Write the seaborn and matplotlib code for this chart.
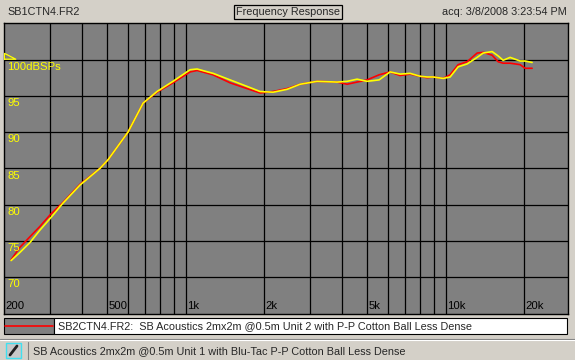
import numpy as np
import pandas as pd
import seaborn as sns
import matplotlib.pyplot as plt
from matplotlib.patches import Rectangle
from matplotlib.lines import Line2D

# frequency points (Hz)
freq = [213, 230, 252, 275, 301, 337, 392, 468, 503, 600, 686, 776, 894, 1040,
        1107, 1275, 1482, 1723, 1934, 2170, 2457, 2757, 3206, 3827, 4182, 4568,
        4992, 5552, 6120, 6686, 7306, 7984, 8496, 8960, 9792, 10416, 11184,
        12110, 13234, 13956, 15114, 15942, 16662, 17724, 19370, 20250, 21540]

# SB1CTN4.FR2 (yellow, main trace)
spl_sb1 = [72.3, 73.4, 74.8, 76.5, 78.1, 80.2, 82.7, 85.0, 86.2, 90.0, 94.0, 95.6,
           97.0, 98.6, 98.7, 98.1, 97.2, 96.3, 95.6, 95.5, 95.9, 96.6, 97.0, 96.9,
           97.0, 97.3, 97.0, 97.2, 98.3, 98.0, 98.1, 97.7, 97.6, 97.6, 97.4, 97.6,
           99.0, 99.4, 100.3, 100.9, 101.1, 100.5, 99.9, 100.3, 99.8, 99.8, 99.6]

# SB2CTN4.FR2 (red, overlay)
spl_sb2 = [72.4, 74.1, 75.6, 77.0, 78.6, 80.3, 82.8, 85.0, 86.2, 90.0, 94.0, 95.5,
           96.8, 98.3, 98.5, 97.9, 96.8, 96.0, 95.4, 95.6, 96.0, 96.6, 97.0, 96.9,
           96.6, 96.9, 97.2, 97.9, 98.3, 97.8, 98.0, 97.7, 97.5, 97.6, 97.4, 97.9,
           99.3, 99.7, 100.9, 101.0, 100.6, 99.7, 99.5, 99.5, 99.3, 98.8, 98.8]

x_grid = [300, 400, 500, 600, 700, 800, 900, 1000, 2000, 3000, 4000, 5000,
          6000, 7000, 8000, 9000, 10000, 20000]
x_labels = {200: "200", 500: "500", 1000: "1k", 2000: "2k", 5000: "5k",
            10000: "10k", 20000: "20k"}
y_ticks = [70, 75, 80, 85, 90, 95, 100]
y_labels = ["70", "75", "80", "85", "90", "95", "100dBSPs"]
ref_level = 100

title_left = "SB1CTN4.FR2"
title_mid = "Frequency Response"
title_right = "acq: 3/8/2008 3:23:54 PM"
legend_text = "SB2CTN4.FR2:  SB Acoustics 2mx2m @0.5m Unit 2 with P-P Cotton Ball Less Dense"
status_text = "SB Acoustics 2mx2m @0.5m Unit 1 with Blu-Tac P-P Cotton Ball Less Dense"

df = pd.DataFrame({"freq": freq, "sb1": spl_sb1, "sb2": spl_sb2})

sns.set_style("white")
plt.rcParams["font.family"] = ["Liberation Sans", "DejaVu Sans"]

W, H = 575, 360
fig = plt.figure(figsize=(W / 100, H / 100), dpi=100)
fig.patch.set_facecolor("#d4d0c8")


def fx(x):
    return x / W


def fy(y):
    return 1 - y / H


ax = fig.add_axes([fx(4), fy(313.5), fx(568) - fx(4), fy(23.3) - fy(313.5)])
ax.set_facecolor("#808080")
ax.set_xscale("log")
ax.set_xlim(200, 29600)
ax.set_ylim(65, 105)

for x in x_grid:
    ax.axvline(x, color="black", lw=0.9, zorder=1)
for y in y_ticks:
    ax.axhline(y, color="black", lw=0.9, zorder=1)

sns.lineplot(data=df, x="freq", y="sb2", color="#ff0000", lw=1.2, ax=ax, zorder=3)
sns.lineplot(data=df, x="freq", y="sb1", color="#ffff00", lw=1.2, ax=ax, zorder=4)

ax.set_xticks([])
ax.set_yticks([])
ax.minorticks_off()
ax.set_xlabel("")
ax.set_ylabel("")
for s in ax.spines.values():
    s.set_color("black")
    s.set_linewidth(1.0)

# y labels inside the plot, just under each gridline
ytrans = ax.get_yaxis_transform()
for y, lab in zip(y_ticks, y_labels):
    ax.text(0.006, y - 0.3, lab, transform=ytrans, color="#ffff00",
            fontsize=8.2, ha="left", va="top", zorder=5)

# reference level marker
ax.plot([201, 222, 201, 201], [ref_level + 0.05, ref_level + 0.05, ref_level + 0.85, ref_level + 0.05],
        color="#ffff00", lw=0.9, zorder=5, clip_on=False)

# x labels at the bottom, right of each gridline
for x, lab in x_labels.items():
    ax.text(x * 1.012, 65.4, lab, color="black", fontsize=8.2,
            ha="left", va="bottom", zorder=5)

# header
fig.text(fx(7), fy(12), title_left, fontsize=7.8, ha="left", va="center")
fig.text(fx(288), fy(12), title_mid, fontsize=7.8, ha="center", va="center",
         bbox=dict(boxstyle="square,pad=0.15", fc="none", ec="black", lw=0.9))
fig.text(fx(567), fy(12), title_right, fontsize=7.8, ha="right", va="center")

# legend row
fig.patches.append(Rectangle((fx(4), fy(334)), fx(50), fy(318) - fy(334),
                             transform=fig.transFigure, fc="#808080", ec="black", lw=0.8))
fig.patches.append(Rectangle((fx(54), fy(334)), fx(513), fy(318) - fy(334),
                             transform=fig.transFigure, fc="white", ec="black", lw=0.8))
fig.lines.append(Line2D([fx(5), fx(53)], [fy(325.7), fy(325.7)],
                        transform=fig.transFigure, color="#ff0000", lw=1.2))
fig.text(fx(58), fy(326), legend_text, fontsize=7.8, ha="left", va="center")

# status bar
fig.lines.append(Line2D([0, 1], [fy(339), fy(339)], transform=fig.transFigure,
                        color="#808080", lw=0.8))
fig.lines.append(Line2D([0, 1], [fy(340), fy(340)], transform=fig.transFigure,
                        color="white", lw=0.8))
fig.patches.append(Rectangle((fx(6), fy(358)), fx(15), fy(343) - fy(358),
                             transform=fig.transFigure, fc="#c8c8c8", ec="#40e0f0", lw=1.0))
fig.lines.append(Line2D([fx(10), fx(17)], [fy(355), fy(346)], transform=fig.transFigure,
                        color="#202020", lw=2.0))
fig.lines.append(Line2D([fx(28), fx(28)], [fy(342), fy(360)], transform=fig.transFigure,
                        color="#808080", lw=0.8))
fig.text(fx(33), fy(351.5), status_text, fontsize=7.8, ha="left", va="center")

fig.savefig("out.png", dpi=100, facecolor=fig.get_facecolor())
